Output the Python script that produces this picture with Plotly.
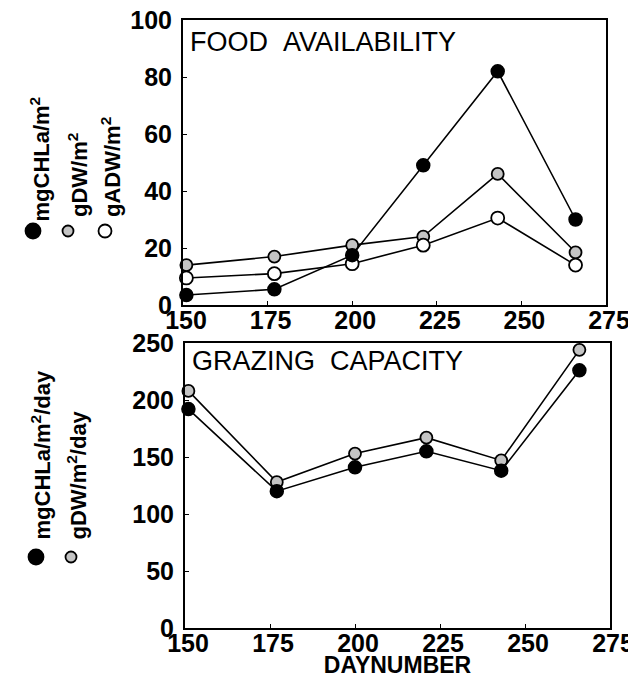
import plotly.graph_objects as go

# Sampling days and measured series
days = [151, 177, 200, 221, 243, 266]

# Food availability (upper panel)
food_chla = [3.5, 5.5, 17.5, 49, 82, 30]      # mgCHLa/m2
food_dw = [14, 17, 21, 24, 46, 18.5]          # gDW/m2
food_adw = [9.5, 11, 14.5, 21, 30.5, 14]      # gADW/m2

# Grazing capacity (lower panel)
graz_chla = [192, 120, 141, 155, 138, 226]    # mgCHLa/m2/day
graz_dw = [208, 128, 153, 167, 147, 244]      # gDW/m2/day

x_ticks = [150, 175, 200, 225, 250, 275]
food_ticks = [0, 20, 40, 60, 80, 100]
graz_ticks = [0, 50, 100, 150, 200, 250]

W, H = 628, 678
FONT = "Liberation Sans"


def px(x):
    return x / W


def py(y):
    return 1 - y / H


BLACK = dict(color="black", size=13, line=dict(color="black", width=1.5))
GREY = dict(color="#c4c4c4", size=12, line=dict(color="black", width=1.8))
WHITE = dict(color="white", size=13, line=dict(color="black", width=1.8))
LINE = dict(color="black", width=1.6)

fig = go.Figure()


def add(x, y, marker, xa, ya):
    fig.add_trace(go.Scatter(x=x, y=y, mode="lines+markers", marker=marker,
                             line=LINE, xaxis=xa, yaxis=ya, cliponaxis=False,
                             showlegend=False))


add(days, food_dw, GREY, "x", "y")
add(days, food_adw, WHITE, "x", "y")
add(days, food_chla, BLACK, "x", "y")
add(days, graz_dw, GREY, "x2", "y2")
add(days, graz_chla, BLACK, "x2", "y2")

tickfont = dict(family=FONT, size=25, color="black", weight="bold")
axis_common = dict(showline=True, linecolor="black", linewidth=2, mirror=True,
                   ticks="inside", ticklen=4, tickcolor="black",
                   showgrid=False, zeroline=False, tickfont=tickfont,
                   automargin=False, ticklabeloverflow="allow")

fig.update_layout(
    width=W, height=H,
    margin=dict(l=0, r=0, t=0, b=0),
    paper_bgcolor="white", plot_bgcolor="white",
    xaxis=dict(domain=[px(183), px(606)], anchor="y", range=[150, 275],
               tickvals=x_ticks, ticklabelshift=3, ticklabelstandoff=-8,
               **axis_common),
    yaxis=dict(domain=[py(305), py(20)], anchor="x", range=[0, 100],
               tickvals=food_ticks, ticklabelstandoff=4, **axis_common),
    xaxis2=dict(domain=[px(185), px(610)], anchor="y2", range=[150, 275],
                tickvals=x_ticks, ticklabelshift=3, ticklabelstandoff=-8,
                title=dict(text="DAYNUMBER", standoff=0,
                           font=dict(family=FONT, size=23, color="black",
                                     weight="bold")),
                **axis_common),
    yaxis2=dict(domain=[py(628), py(343)], anchor="x2", range=[0, 250],
                tickvals=graz_ticks, ticklabelstandoff=4, **axis_common),
)

# Panel titles
title_font = dict(family=FONT, size=27, color="black")
fig.add_annotation(text="FOOD\u00a0\u00a0AVAILABILITY", xref="paper", yref="paper",
                   x=px(188), y=py(25), xanchor="left", yanchor="top",
                   showarrow=False, font=title_font)
fig.add_annotation(text="GRAZING\u00a0\u00a0CAPACITY", xref="paper", yref="paper",
                   x=px(190), y=py(344), xanchor="left", yanchor="top",
                   showarrow=False, font=title_font)

# Rotated axis labels with their symbol keys
label_font = dict(family=FONT, size=22, color="black", weight="bold")
labels = [
    ("mgCHLa/m<sup>2</sup>", 39, 224),
    ("gDW/m<sup>2</sup>", 78, 219),
    ("gADW/m<sup>2</sup>", 111, 219),
    ("mgCHLa/m<sup>2</sup>/day", 40, 542),
    ("gDW/m<sup>2</sup>/day", 76, 542),
]
for text, x, y in labels:
    fig.add_annotation(text=text, xref="paper", yref="paper", x=px(x), y=py(y),
                       xanchor="center", yanchor="bottom", textangle=-90,
                       showarrow=False, font=label_font)

keys = [
    (33, 231, 7.5, "black"),
    (68, 231, 5.5, "#c4c4c4"),
    (105, 231, 6.5, "white"),
    (36, 557, 7.5, "black"),
    (71, 557, 5.5, "#c4c4c4"),
]
for x, y, r, fill in keys:
    fig.add_shape(type="circle", xref="paper", yref="paper",
                  xsizemode="pixel", ysizemode="pixel",
                  xanchor=px(x), yanchor=py(y), x0=-r, x1=r, y0=-r, y1=r,
                  fillcolor=fill, line=dict(color="black", width=1.8))

fig.write_html("out.html")
